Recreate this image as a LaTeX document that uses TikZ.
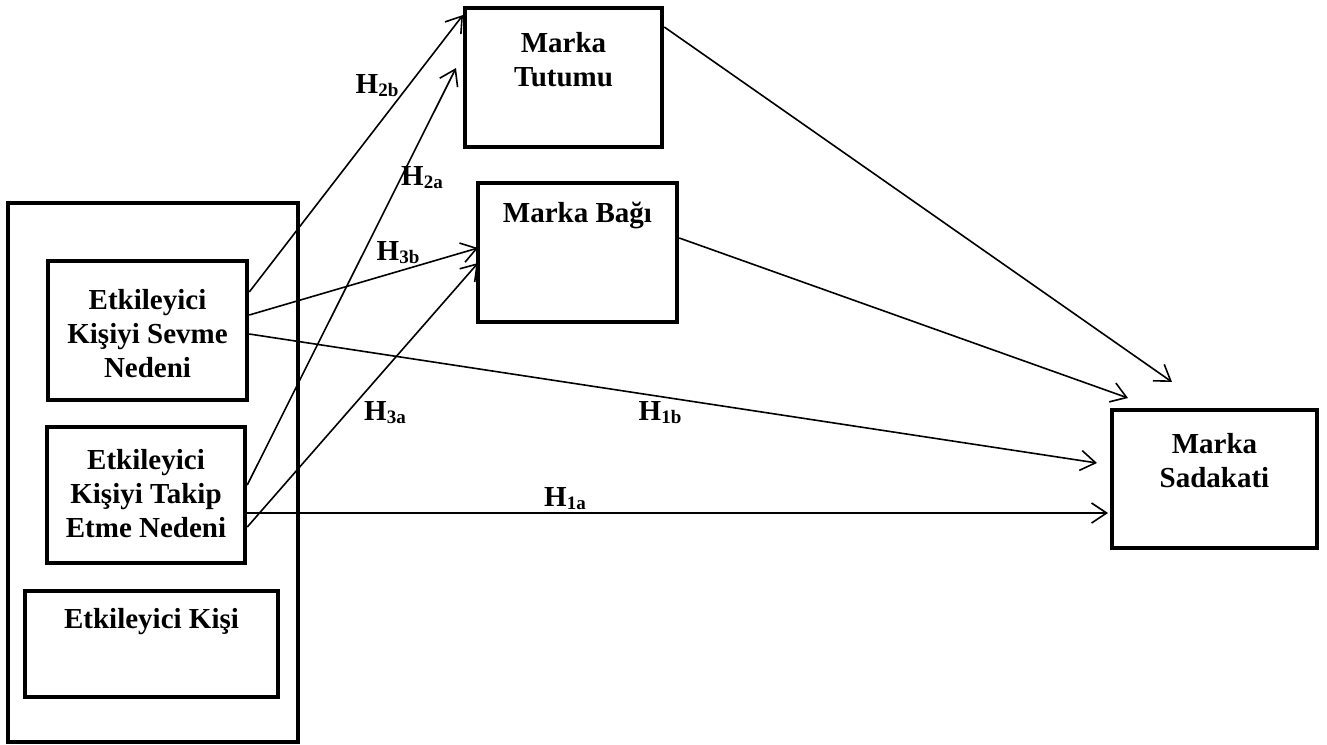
\documentclass[tikz,border=0pt]{standalone}
\usepackage{fontspec}
\setmainfont{Liberation Serif}
\usetikzlibrary{arrows.meta}
\begin{document}
\begin{tikzpicture}[x=1pt,y=-1pt,
  box/.style={draw, line width=4.5pt, inner sep=0pt},
  txt/.style={font=\fontsize{29}{34}\selectfont\bfseries, align=center, inner sep=0pt},
  conn/.style={line width=1.6pt, -{Straight Barb[length=15pt,width=20pt,line width=1.6pt]}},
  hlab/.style={font=\fontsize{29}{30}\selectfont\bfseries, inner sep=0pt}]
\newcommand{\hyp}[2]{H{\fontsize{19}{19}\selectfont\raisebox{-3pt}{#1#2}}}
\useasboundingbox (0,0) rectangle (1327,744);
% boxes
\node[box, minimum width=290pt, minimum height=539pt] (outer) at (153,472.5) {};
\node[box, minimum width=199pt, minimum height=139pt] (sev) at (147.5,330.5) {};
\node[txt] (sevt) at (147.5,334) {Etkileyici\\Kişiyi Sevme\\Nedeni};
\node[box, minimum width=198pt, minimum height=136pt] (tak) at (146,495) {};
\node[txt] (takt) at (146,494) {Etkileyici\\Kişiyi Takip\\Etme Nedeni};
\node[box, minimum width=253pt, minimum height=106pt] (kisi) at (151.5,644) {};
\node[txt] (kisit) at (151.5,622) {Etkileyici Kişi};
\node[box, minimum width=197pt, minimum height=139pt] (tut) at (563.5,77.5) {};
\node[txt] (tutt) at (563.5,60) {Marka\\Tutumu};
\node[box, minimum width=199pt, minimum height=139pt] (bag) at (577.5,252.5) {};
\node[txt] (bagt) at (577.5,215) {Marka Bağı};
\node[box, minimum width=205pt, minimum height=138pt] (sad) at (1214.5,479) {};
\node[txt] (sadt) at (1214.5,461) {Marka\\Sadakati};
% arrow end coordinates
\coordinate (e2b) at (463,15);
\coordinate (e3b) at (478,248);
\coordinate (e1b) at (1097,463);
\coordinate (e2a) at (456,68);
\coordinate (e3a) at (478,263);
\coordinate (e1a) at (1108,513);
\coordinate (et) at (1172,382);
\coordinate (eb) at (1128,398);
% connectors
\draw[conn] ([yshift=38.5pt]sev.east) -- (e2b);
\draw[conn] ([yshift=15.5pt]sev.east) -- (e3b);
\draw[conn] ([yshift=-3.5pt]sev.east) -- (e1b);
\draw[conn] ([yshift=10pt]tak.east) -- (e2a);
\draw[conn] ([yshift=-32pt]tak.east) -- (e3a);
\draw[conn] ([yshift=-18pt]tak.east) -- (e1a);
\draw[conn] ([yshift=50.5pt]tut.east) -- (et);
\draw[conn] ([yshift=14.5pt]bag.east) -- (eb);
% labels
\node[hlab] (l2b) at (377,86) {\hyp{2}{b}};
\node[hlab] (l2a) at (422,178) {\hyp{2}{a}};
\node[hlab] (l3b) at (398,253) {\hyp{3}{b}};
\node[hlab] (l3a) at (385,413) {\hyp{3}{a}};
\node[hlab] (l1b) at (660,413) {\hyp{1}{b}};
\node[hlab] (l1a) at (565,499) {\hyp{1}{a}};
\end{tikzpicture}
\end{document}
